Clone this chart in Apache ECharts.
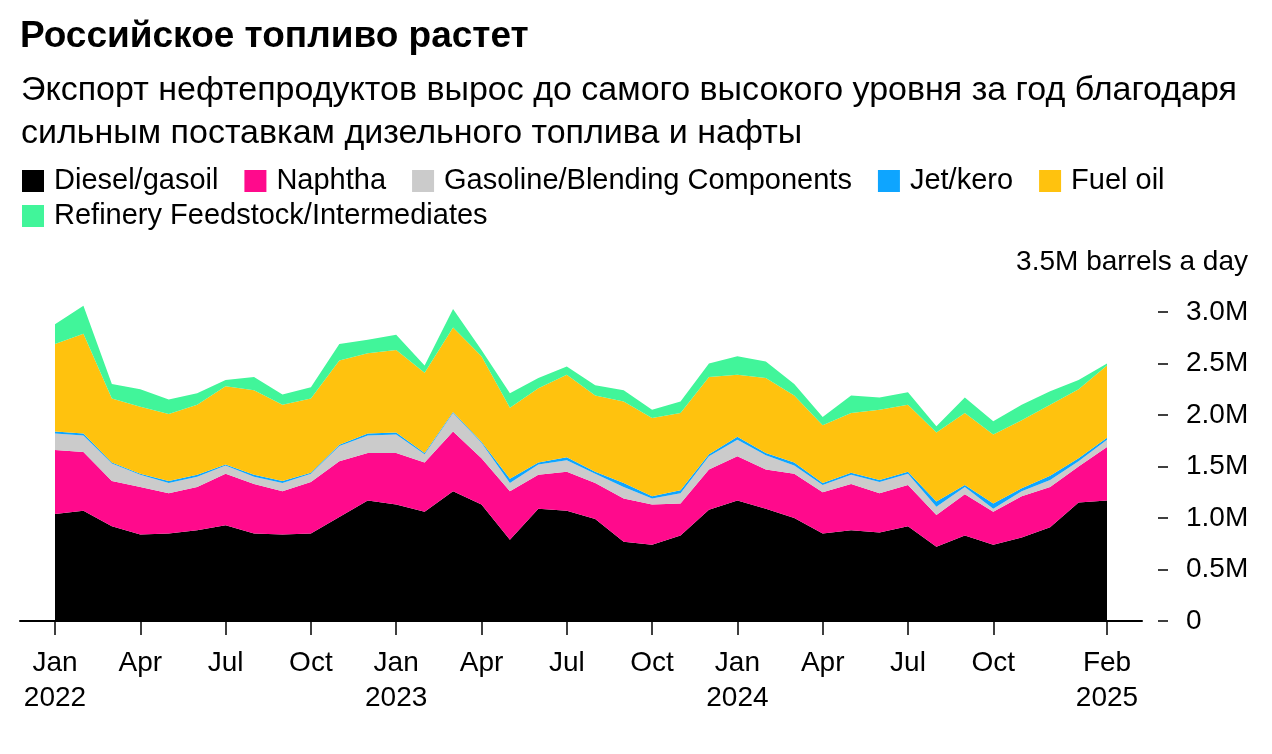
<!DOCTYPE html>
<html>
<head>
<meta charset="utf-8">
<script src="https://cdn.jsdelivr.net/npm/echarts@6/dist/echarts.min.js"></script>
<style>
html,body{margin:0;padding:0;background:#fff;}
#chart{width:1272px;height:754px;}
</style>
</head>
<body>
<div id="chart"></div>
<script>
// Months (categories)
const months = [
  'Jan 2022','Feb 2022','Mar 2022','Apr 2022','May 2022','Jun 2022','Jul 2022','Aug 2022','Sep 2022','Oct 2022','Nov 2022','Dec 2022',
  'Jan 2023','Feb 2023','Mar 2023','Apr 2023','May 2023','Jun 2023','Jul 2023','Aug 2023','Sep 2023','Oct 2023','Nov 2023','Dec 2023',
  'Jan 2024','Feb 2024','Mar 2024','Apr 2024','May 2024','Jun 2024','Jul 2024','Aug 2024','Sep 2024','Oct 2024','Nov 2024','Dec 2024',
  'Jan 2025','Feb 2025'
];
// Thousand barrels a day
const diesel = [1040,1070,920,840,850,880,930,850,840,850,1010,1170,1130,1060,1260,1130,790,1090,1070,990,770,740,830,1080,1170,1090,1000,850,880,860,920,720,830,740,810,910,1150,1170];
const naphtha = [620,570,440,460,390,420,500,480,420,500,540,460,500,480,580,450,470,330,380,350,420,390,310,390,430,380,430,400,450,380,400,310,400,320,400,390,350,520];
const gasoline = [160,160,170,120,100,100,80,70,80,80,150,170,180,80,180,150,80,100,110,90,110,60,100,130,160,140,80,70,90,110,110,80,70,30,50,70,50,70];
const jet = [20,20,10,10,20,20,10,20,20,10,10,20,20,10,10,10,40,20,30,20,40,20,30,20,30,20,30,20,20,20,20,50,20,50,30,40,30,20];
const fuelOil = [850,970,620,650,650,680,760,820,740,720,820,780,800,780,820,830,690,720,800,740,790,760,750,750,600,730,650,560,580,680,650,670,700,670,660,690,670,700];
const refinery = [190,270,140,170,140,110,60,130,100,110,160,130,150,70,180,60,140,100,80,100,110,80,110,130,180,160,110,80,170,120,120,60,150,130,150,130,90,20];

// Axis ticks
const xTickLabels = {
  'Jan 2022':'Jan\n2022','Apr 2022':'Apr','Jul 2022':'Jul','Oct 2022':'Oct',
  'Jan 2023':'Jan\n2023','Apr 2023':'Apr','Jul 2023':'Jul','Oct 2023':'Oct',
  'Jan 2024':'Jan\n2024','Apr 2024':'Apr','Jul 2024':'Jul','Oct 2024':'Oct',
  'Feb 2025':'Feb\n2025'
};
const yTicks = [0,500,1000,1500,2000,2500,3000];
const yTopLabel = '3.5M barrels a day';

const seriesDefs = [
  {name:'Diesel/gasoil', data:diesel, color:'#000000'},
  {name:'Naphtha', data:naphtha, color:'#ff0a8c'},
  {name:'Gasoline/Blending Components', data:gasoline, color:'#cbcbcb'},
  {name:'Jet/kero', data:jet, color:'#0ea5ff'},
  {name:'Fuel oil', data:fuelOil, color:'#ffc20e'},
  {name:'Refinery Feedstock/Intermediates', data:refinery, color:'#41f59a'}
];

const FONT = '"Liberation Sans", Arial, sans-serif';
const chart = echarts.init(document.getElementById('chart'), null, {renderer:'canvas'});

const legendCommon = {
  orient:'horizontal', left:22, padding:0, icon:'rect', itemWidth:22, itemHeight:22, itemGap:26,
  textStyle:{fontFamily:FONT, fontSize:29, color:'#000', lineHeight:30, padding:[0,0,0,5]},
  selectedMode:false
};
const showTick = function(idx){ return xTickLabels.hasOwnProperty(months[idx]); };

chart.setOption({
  backgroundColor:'#fff',
  animation:false,
  title:[
    {text:'Российское топливо растет', left:15, top:11,
     textStyle:{fontFamily:FONT, fontSize:37, fontWeight:'bold', color:'#000', lineHeight:42}},
    {text:'Экспорт нефтепродуктов вырос до самого высокого уровня за год благодаря\nсильным поставкам дизельного топлива и нафты', left:16, top:64,
     textStyle:{fontFamily:FONT, fontSize:34, fontWeight:'normal', color:'#000', lineHeight:43}},
    {text:yTopLabel, right:19, top:242,
     textStyle:{fontFamily:FONT, fontSize:28, fontWeight:'normal', color:'#000', lineHeight:30}}
  ],
  legend:[
    Object.assign({}, legendCommon, {top:166, data:seriesDefs.slice(0,5).map(s=>s.name)}),
    Object.assign({}, legendCommon, {top:201, data:seriesDefs.slice(5).map(s=>s.name)})
  ],
  grid:[
    {left:55, right:165, top:260.5, bottom:133, containLabel:false},
    {left:20, right:130, top:260.5, bottom:133, containLabel:false}
  ],
  xAxis:[
    {
      type:'category', gridIndex:0, data:months, boundaryGap:false,
      splitLine:{show:false},
      axisLine:{show:false},
      axisTick:{show:true, length:14, interval:function(i){return showTick(i);}, lineStyle:{color:'#000', width:1.5}},
      axisLabel:{show:true, interval:function(i){return showTick(i);}, margin:25, fontFamily:FONT, fontSize:28, color:'#000', lineHeight:35,
        formatter:function(v){ return xTickLabels[v] || ''; }}
    },
    {
      type:'value', gridIndex:1, min:0, max:1,
      splitLine:{show:false}, axisTick:{show:false}, axisLabel:{show:false},
      axisLine:{show:true, onZero:false, lineStyle:{color:'#000', width:2}}
    }
  ],
  yAxis:[
    {
      type:'value', gridIndex:0, position:'right', offset:51, min:0, max:3500, interval:500,
      splitLine:{show:false},
      axisLine:{show:false, onZero:false},
      axisTick:{show:true, length:10, customValues:yTicks, lineStyle:{color:'#000', width:1.5}},
      axisLabel:{show:true, customValues:yTicks, margin:28, fontFamily:FONT, fontSize:28, color:'#000',
        formatter:function(v){ return v===0 ? '0' : (v/1000).toFixed(1)+'M'; }}
    },
    {type:'value', gridIndex:1, min:0, max:1, show:false}
  ],
  series: seriesDefs.map(s=>({
    name:s.name, type:'line', stack:'total', symbol:'none', showSymbol:false,
    xAxisIndex:0, yAxisIndex:0,
    lineStyle:{width:0, color:s.color}, itemStyle:{color:s.color},
    areaStyle:{color:s.color, opacity:1},
    data:s.data
  }))
});
</script>
</body>
</html>
